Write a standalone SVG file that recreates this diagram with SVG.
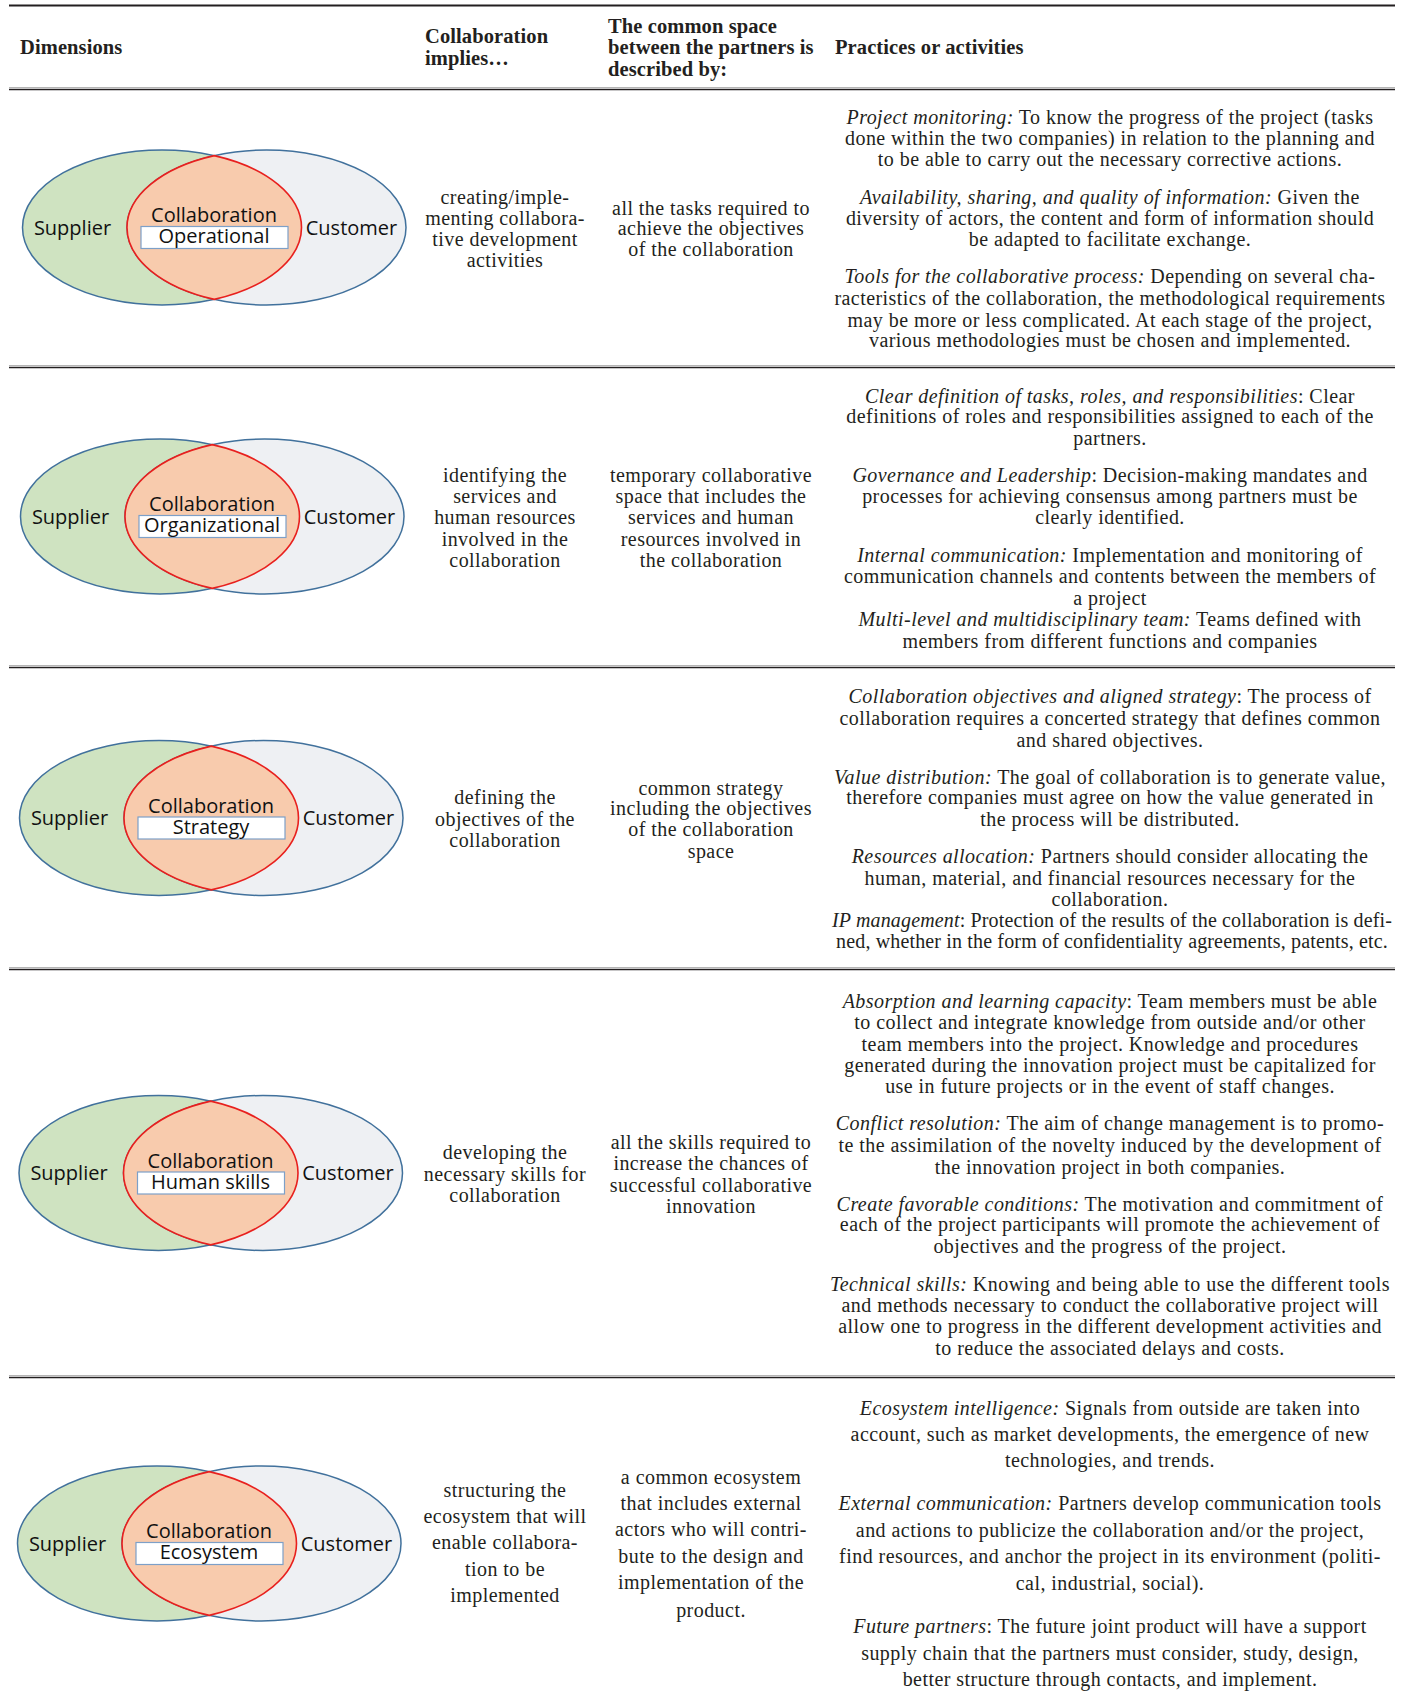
<svg xmlns="http://www.w3.org/2000/svg" xmlns:xlink="http://www.w3.org/1999/xlink" width="1402" height="1703" viewBox="0 0 1402 1703">
<style>
.h{font-family:"Liberation Serif","Times New Roman",serif;font-weight:bold;font-size:20.5px;letter-spacing:0.1px;fill:#231f20}
.t{font-family:"Liberation Serif","Times New Roman",serif;font-size:20px;letter-spacing:0.45px;fill:#231f20;text-anchor:middle}
.c{letter-spacing:0.15px}
.i{font-style:italic}
.v{font-family:"Open Sans","Noto Sans",sans-serif;font-size:20px;fill:#111;text-anchor:middle}
.sup{fill:#cfe3c1;stroke:#41719c;stroke-width:1.5}
.cus{fill:#eef0f3;stroke:#41719c;stroke-width:1.5}
.lens{fill:#f8cbad;stroke:#e8201e;stroke-width:1.6}
.box{fill:#fff;stroke:#7da0c8;stroke-width:1.2}
.rg{stroke:#b5b5b5;stroke-width:1}
.rd{stroke:#231f20;stroke-width:1.4}
</style>
<defs>
<ellipse id="se" class="sup" cx="0" cy="0" rx="139.5" ry="77.5"/>
<ellipse id="ce" class="cus" cx="104.5" cy="0" rx="139.5" ry="77.5"/>
<path id="ln" class="lens" d="M52.25,-71.86 A139.5,77.5 0 0 0 52.25,71.86 A139.5,77.5 0 0 0 52.25,-71.86 Z"/>
<rect id="bx" class="box" x="-21" y="-1" width="147" height="22"/>
</defs>
<rect width="1402" height="1703" fill="#fff"/>

<g id="rules">
<line x1="9" y1="5.5" x2="1395" y2="5.5" stroke="#231f20" stroke-width="2.2"/>
<line class="rg" x1="9" y1="87.5" x2="1395" y2="87.5"/>
<line class="rd" x1="9" y1="89.5" x2="1395" y2="89.5"/>
<line class="rg" x1="9" y1="365.5" x2="1395" y2="365.5"/>
<line class="rd" x1="9" y1="367.5" x2="1395" y2="367.5"/>
<line class="rg" x1="9" y1="665.5" x2="1395" y2="665.5"/>
<line class="rd" x1="9" y1="667.5" x2="1395" y2="667.5"/>
<line class="rg" x1="9" y1="967.5" x2="1395" y2="967.5"/>
<line class="rd" x1="9" y1="969.5" x2="1395" y2="969.5"/>
<line class="rg" x1="9" y1="1375.5" x2="1395" y2="1375.5"/>
<line class="rd" x1="9" y1="1377.5" x2="1395" y2="1377.5"/>
</g>

<g id="header">
<text class="h" x="20" y="54">Dimensions</text>
<text class="h" x="425" y="43">Collaboration</text>
<text class="h" x="425" y="65">implies…</text>
<text class="h" x="608" y="33">The common space</text>
<text class="h" x="608" y="54">between the partners is</text>
<text class="h" x="608" y="75.5">described by:</text>
<text class="h" x="835" y="54">Practices or activities</text>
</g>

<g id="venn-operational" transform="translate(162,227.5)">
<use xlink:href="#se"/><use xlink:href="#ce"/><use xlink:href="#ln"/><use xlink:href="#bx"/>
<text class="v" x="-89.5" y="7">Supplier</text>
<text class="v" x="52" y="-5.5">Collaboration</text>
<text class="v" x="52" y="15.5">Operational</text>
<text class="v" x="189.5" y="7">Customer</text>
</g>
<g id="venn-organizational" transform="translate(160,516.5)">
<use xlink:href="#se"/><use xlink:href="#ce"/><use xlink:href="#ln"/><use xlink:href="#bx"/>
<text class="v" x="-89.5" y="7">Supplier</text>
<text class="v" x="52" y="-5.5">Collaboration</text>
<text class="v" x="52" y="15.5">Organizational</text>
<text class="v" x="189.5" y="7">Customer</text>
</g>
<g id="venn-strategy" transform="translate(159,818)">
<use xlink:href="#se"/><use xlink:href="#ce"/><use xlink:href="#ln"/><use xlink:href="#bx"/>
<text class="v" x="-89.5" y="7">Supplier</text>
<text class="v" x="52" y="-5.5">Collaboration</text>
<text class="v" x="52" y="15.5">Strategy</text>
<text class="v" x="189.5" y="7">Customer</text>
</g>
<g id="venn-human" transform="translate(158.5,1173)">
<use xlink:href="#se"/><use xlink:href="#ce"/><use xlink:href="#ln"/><use xlink:href="#bx"/>
<text class="v" x="-89.5" y="7">Supplier</text>
<text class="v" x="52" y="-5.5">Collaboration</text>
<text class="v" x="52" y="15.5">Human skills</text>
<text class="v" x="189.5" y="7">Customer</text>
</g>
<g id="venn-ecosystem" transform="translate(157,1543.5)">
<use xlink:href="#se"/><use xlink:href="#ce"/><use xlink:href="#ln"/><use xlink:href="#bx"/>
<text class="v" x="-89.5" y="7">Supplier</text>
<text class="v" x="52" y="-5.5">Collaboration</text>
<text class="v" x="52" y="15.5">Ecosystem</text>
<text class="v" x="189.5" y="7">Customer</text>
</g>

<g id="row1-text">
<text class="t" x="505" y="204">creating/imple-</text>
<text class="t" x="505" y="224.5">menting collabora-</text>
<text class="t" x="505" y="246">tive development</text>
<text class="t" x="505" y="266.5">activities</text>
<text class="t" x="711" y="214.5">all the tasks required to</text>
<text class="t" x="711" y="235">achieve the objectives</text>
<text class="t" x="711" y="256">of the collaboration</text>
<text class="t" x="1110" y="123.5"><tspan class="i">Project monitoring:</tspan> To know the progress of the project (tasks</text>
<text class="t" x="1110" y="145">done within the two companies) in relation to the planning and</text>
<text class="t" x="1110" y="165.5">to be able to carry out the necessary corrective actions.</text>
<text class="t" x="1110" y="203.5"><tspan class="i">Availability, sharing, and quality of information:</tspan> Given the</text>
<text class="t" x="1110" y="224.5">diversity of actors, the content and form of information should</text>
<text class="t" x="1110" y="246">be adapted to facilitate exchange.</text>
<text class="t" x="1110" y="283"><tspan class="i">Tools for the collaborative process:</tspan> Depending on several cha-</text>
<text class="t" x="1110" y="304.5">racteristics of the collaboration, the methodological requirements</text>
<text class="t" x="1110" y="326.5">may be more or less complicated. At each stage of the project,</text>
<text class="t" x="1110" y="347">various methodologies must be chosen and implemented.</text>
</g>

<g id="row2-text">
<text class="t" x="505" y="481.5">identifying the</text>
<text class="t" x="505" y="503">services and</text>
<text class="t" x="505" y="524">human resources</text>
<text class="t" x="505" y="545.5">involved in the</text>
<text class="t" x="505" y="566.5">collaboration</text>
<text class="t" x="711" y="481.5">temporary collaborative</text>
<text class="t" x="711" y="503">space that includes the</text>
<text class="t" x="711" y="524">services and human</text>
<text class="t" x="711" y="545.5">resources involved in</text>
<text class="t" x="711" y="566.5">the collaboration</text>
<text class="t" x="1110" y="402.5"><tspan class="i">Clear definition of tasks, roles, and responsibilities</tspan>: Clear</text>
<text class="t" x="1110" y="423">definitions of roles and responsibilities assigned to each of the</text>
<text class="t" x="1110" y="444.5">partners.</text>
<text class="t" x="1110" y="481.5"><tspan class="i">Governance and Leadership</tspan>: Decision-making mandates and</text>
<text class="t" x="1110" y="503">processes for achieving consensus among partners must be</text>
<text class="t" x="1110" y="524">clearly identified.</text>
<text class="t" x="1110" y="562"><tspan class="i">Internal communication:</tspan> Implementation and monitoring of</text>
<text class="t" x="1110" y="583">communication channels and contents between the members of</text>
<text class="t" x="1110" y="605">a project</text>
<text class="t" x="1110" y="626"><tspan class="i">Multi-level and multidisciplinary team:</tspan> Teams defined with</text>
<text class="t" x="1110" y="647.5">members from different functions and companies</text>
</g>

<g id="row3-text">
<text class="t" x="505" y="804">defining the</text>
<text class="t" x="505" y="826">objectives of the</text>
<text class="t" x="505" y="846.5">collaboration</text>
<text class="t" x="711" y="794.5">common strategy</text>
<text class="t" x="711" y="815">including the objectives</text>
<text class="t" x="711" y="835.5">of the collaboration</text>
<text class="t" x="711" y="857.5">space</text>
<text class="t" x="1110" y="703"><tspan class="i">Collaboration objectives and aligned strategy</tspan>: The process of</text>
<text class="t" x="1110" y="725">collaboration requires a concerted strategy that defines common</text>
<text class="t" x="1110" y="746.5">and shared objectives.</text>
<text class="t" x="1110" y="783.5"><tspan class="i">Value distribution:</tspan> The goal of collaboration is to generate value,</text>
<text class="t" x="1110" y="804">therefore companies must agree on how the value generated in</text>
<text class="t" x="1110" y="826">the process will be distributed.</text>
<text class="t" x="1110" y="863"><tspan class="i">Resources allocation:</tspan> Partners should consider allocating the</text>
<text class="t" x="1110" y="884.5">human, material, and financial resources necessary for the</text>
<text class="t" x="1110" y="906">collaboration.</text>
<text class="t c" x="1112" y="927"><tspan class="i">IP management</tspan>: Protection of the results of the collaboration is defi-</text>
<text class="t c" x="1112" y="947.5">ned, whether in the form of confidentiality agreements, patents, etc.</text>
</g>

<g id="row4-text">
<text class="t" x="505" y="1159">developing the</text>
<text class="t" x="505" y="1181">necessary skills for</text>
<text class="t" x="505" y="1201.5">collaboration</text>
<text class="t" x="711" y="1148.5">all the skills required to</text>
<text class="t" x="711" y="1170">increase the chances of</text>
<text class="t" x="711" y="1192">successful collaborative</text>
<text class="t" x="711" y="1212.5">innovation</text>
<text class="t" x="1110" y="1007.5"><tspan class="i">Absorption and learning capacity</tspan>: Team members must be able</text>
<text class="t" x="1110" y="1029">to collect and integrate knowledge from outside and/or other</text>
<text class="t" x="1110" y="1050.5">team members into the project. Knowledge and procedures</text>
<text class="t" x="1110" y="1071.5">generated during the innovation project must be capitalized for</text>
<text class="t" x="1110" y="1093">use in future projects or in the event of staff changes.</text>
<text class="t" x="1110" y="1130"><tspan class="i">Conflict resolution:</tspan> The aim of change management is to promo-</text>
<text class="t" x="1110" y="1151.5">te the assimilation of the novelty induced by the development of</text>
<text class="t" x="1110" y="1173.5">the innovation project in both companies.</text>
<text class="t" x="1110" y="1210.5"><tspan class="i">Create favorable conditions:</tspan> The motivation and commitment of</text>
<text class="t" x="1110" y="1231">each of the project participants will promote the achievement of</text>
<text class="t" x="1110" y="1252.5">objectives and the progress of the project.</text>
<text class="t" x="1110" y="1290.5"><tspan class="i">Technical skills:</tspan> Knowing and being able to use the different tools</text>
<text class="t" x="1110" y="1311.5">and methods necessary to conduct the collaborative project will</text>
<text class="t" x="1110" y="1333">allow one to progress in the different development activities and</text>
<text class="t" x="1110" y="1355">to reduce the associated delays and costs.</text>
</g>

<g id="row5-text">
<text class="t" x="505" y="1497">structuring the</text>
<text class="t" x="505" y="1523">ecosystem that will</text>
<text class="t" x="505" y="1549">enable collabora-</text>
<text class="t" x="505" y="1576">tion to be</text>
<text class="t" x="505" y="1602">implemented</text>
<text class="t" x="711" y="1484">a common ecosystem</text>
<text class="t" x="711" y="1510">that includes external</text>
<text class="t" x="711" y="1536">actors who will contri-</text>
<text class="t" x="711" y="1563">bute to the design and</text>
<text class="t" x="711" y="1589">implementation of the</text>
<text class="t" x="711" y="1616.5">product.</text>
<text class="t" x="1110" y="1414.5"><tspan class="i">Ecosystem intelligence:</tspan> Signals from outside are taken into</text>
<text class="t" x="1110" y="1440.5">account, such as market developments, the emergence of new</text>
<text class="t" x="1110" y="1467">technologies, and trends.</text>
<text class="t" x="1110" y="1510"><tspan class="i">External communication:</tspan> Partners develop communication tools</text>
<text class="t" x="1110" y="1537">and actions to publicize the collaboration and/or the project,</text>
<text class="t" x="1110" y="1563">find resources, and anchor the project in its environment (politi-</text>
<text class="t" x="1110" y="1589.5">cal, industrial, social).</text>
<text class="t" x="1110" y="1633"><tspan class="i">Future partners</tspan>: The future joint product will have a support</text>
<text class="t" x="1110" y="1660">supply chain that the partners must consider, study, design,</text>
<text class="t" x="1110" y="1686">better structure through contacts, and implement.</text>
</g>
</svg>
